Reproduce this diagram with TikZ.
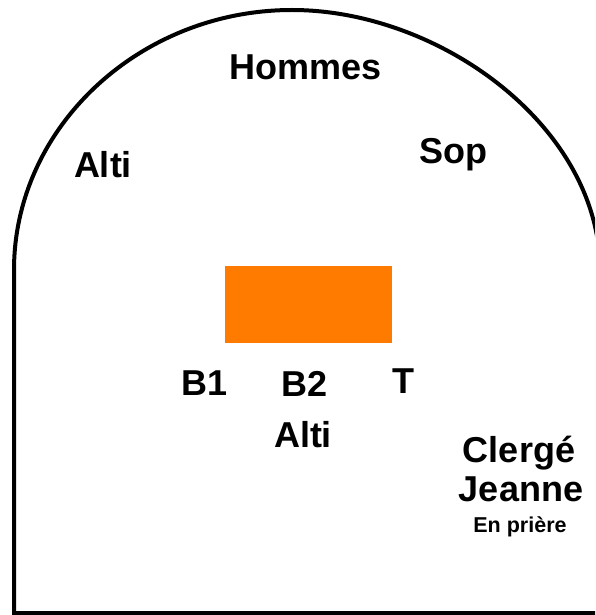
\documentclass[tikz,border=0pt]{standalone}
\usepackage{fontspec}
\setmainfont{Liberation Sans}
\definecolor{autelorange}{RGB}{255,123,0}
\begin{document}
\begin{tikzpicture}[x=1pt,y=-1pt,
	voix/.style = {anchor=base, inner sep=0pt, font=\fontsize{36}{40}\selectfont\bfseries},
	petit/.style = {anchor=base, inner sep=0pt, font=\fontsize{21.5}{24}\selectfont\bfseries},
	autel/.style = {rectangle, fill=autelorange, inner sep=0pt, minimum width=167pt, minimum height=77pt}]
	
	\useasboundingbox (0,0) rectangle (595,615);
	\clip (0,0) rectangle (595,615);
	
	% la nef
	\draw[line width=4pt] (14,613) -- (14,270)
	.. controls (14,127) and (140,10) .. (292,10)
	.. controls (440,10) and (600,127) .. (600,270)
	-- (600,613) -- cycle;
	
	\node[autel] (autel) at (308.5,304.5) {};
	
	\node[voix] at (306,80) (hommes) {Hommes};
	\node[voix] at (103,177) (altiL) {Alti};
	\node[voix] at (453,163) (sop) {Sop};
	\node[voix] at (205,395) (b1) {B1};
	\node[voix] at (305,396) (b2) {B2};
	\node[voix] at (403,393) (t) {T};
	\node[voix] at (303,447) (altiC) {Alti};
	\node[voix] at (519,462) (clerge) {Clergé};
	\node[voix] at (521,501) (jeanne) {Jeanne};
	\node[petit] at (520,532) (priere) {En prière};
	\end{tikzpicture}
\end{document}
